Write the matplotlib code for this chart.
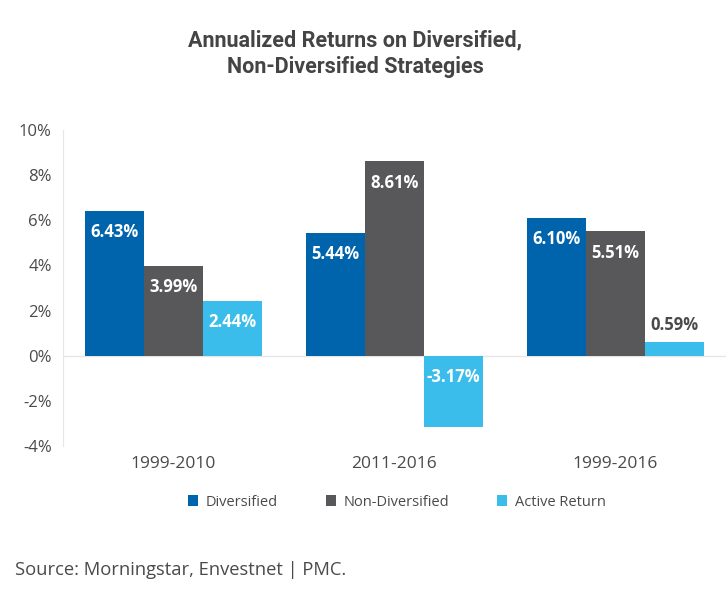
import matplotlib
matplotlib.use("Agg")
import matplotlib.pyplot as plt
import numpy as np
from matplotlib.patches import Patch

periods = ["1999-2010", "2011-2016", "1999-2016"]
series_names = ["Diversified", "Non-Diversified", "Active Return"]
diversified = [6.43, 5.44, 6.10]
non_diversified = [3.99, 8.61, 5.51]
active_return = [2.44, -3.17, 0.59]
yticks = [-4, -2, 0, 2, 4, 6, 8, 10]

colors = ["#0064AD", "#58585B", "#3BBDEB"]
font = ["Open Sans", "DejaVu Sans"]
title_font = ["Roboto", "DejaVu Sans"]
text_color = "#4a4a4a"

fig = plt.figure(figsize=(7.28, 6.05), dpi=100)
ax = fig.add_axes([0.0865, 0.263, 0.9105, 0.522])

x = np.arange(len(periods))
w = 0.267
all_series = [diversified, non_diversified, active_return]
for i, (vals, c) in enumerate(zip(all_series, colors)):
    pos = x + (i - 1) * w
    ax.bar(pos, vals, width=w, color=c, zorder=2)
    for xp, v in zip(pos, vals):
        label = f"{v:.2f}%"
        if v < 0:
            ax.text(xp, -0.93, label, ha="center", va="center", color="white",
                    fontsize=12, fontweight="bold", family=font, zorder=3)
        elif v < 1.5:
            ax.text(xp, v + 0.75, label, ha="center", va="center", color=text_color,
                    fontsize=12, fontweight="bold", family=font, zorder=3)
        else:
            ax.text(xp, v - 0.95, label, ha="center", va="center", color="white",
                    fontsize=12, fontweight="bold", family=font, zorder=3)

ax.set_xlim(-0.5, 2.5)
ax.set_ylim(-4, 10)
ax.set_yticks(yticks)
ax.set_yticklabels([f"{t}%" for t in yticks], family=font, fontsize=12, color=text_color)
ax.set_xticks(x)
ax.set_xticklabels(periods, family=font, fontsize=12.5, color=text_color)
ax.tick_params(axis="y", length=0, pad=8)
ax.tick_params(axis="x", length=0, pad=7)
for s in ["top", "right", "bottom"]:
    ax.spines[s].set_visible(False)
ax.spines["left"].set_color("#e6e6e6")
ax.axhline(0, color="#e6e6e6", lw=1, zorder=1)

handles = [Patch(facecolor=c, edgecolor="none") for c in colors]
leg = fig.legend(handles, series_names, loc="center", bbox_to_anchor=(0.545, 0.17),
                 ncol=3, frameon=False, prop={"family": font, "size": 10.5},
                 handlelength=0.7, handleheight=0.7, handletextpad=0.5, columnspacing=3.3)
for t in leg.get_texts():
    t.set_color(text_color)

fig.text(0.488, 0.911, "Annualized Returns on Diversified,\nNon-Diversified Strategies",
         ha="center", va="center", fontsize=15.5, fontweight="bold", color="#444444",
         family=title_font, linespacing=1.25)
fig.text(0.02, 0.058, "Source: Morningstar, Envestnet | PMC.", ha="left", va="center",
         fontsize=13.2, color=text_color, family=font)

fig.savefig("out.png", dpi=100, facecolor="white")
